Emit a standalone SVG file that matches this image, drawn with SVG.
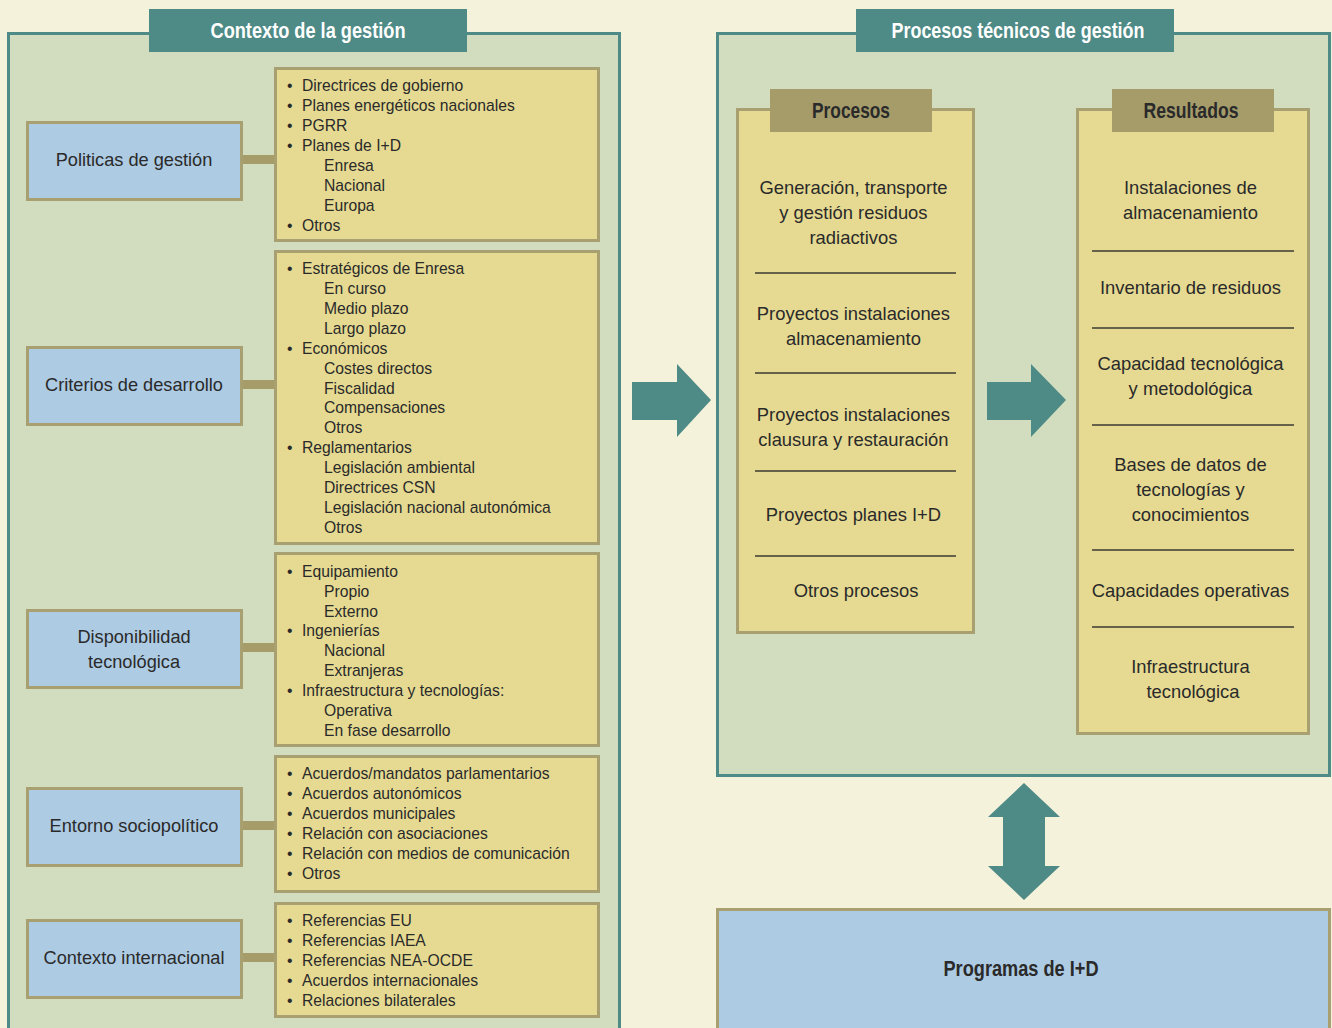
<svg xmlns="http://www.w3.org/2000/svg" width="1332" height="1028" viewBox="0 0 1332 1028">
<style>
.panel{fill:#D1DDBE;stroke:#4E8A86;stroke-width:3}
.hdr{fill:#4E8A86}
.hdrt{font-family:'Liberation Sans',Arial,sans-serif;font-weight:bold;font-size:22.5px;fill:#ffffff;text-anchor:middle}
.node{fill:#ADCBE3;stroke:#A8A070;stroke-width:3}
.list{fill:#E6DA92;stroke:#A8A070;stroke-width:3}
.bar{fill:#A59C6A}
.nt{font-family:'Liberation Sans',Arial,sans-serif;font-size:18.2px;fill:#2A2A2A;text-anchor:middle}
.lt{font-family:'Liberation Sans',Arial,sans-serif;font-size:15.7px;fill:#2A2A2A}
.pt{font-family:'Liberation Sans',Arial,sans-serif;font-size:18.4px;fill:#2A2A2A;text-anchor:middle}
.sub{fill:#A59C6A}
.subt{font-family:'Liberation Sans',Arial,sans-serif;font-weight:bold;font-size:21.5px;fill:#2A2A2A;text-anchor:middle}
.sep{stroke:#3A3A30;stroke-width:1.5}
.arr{fill:#4E8A86}
</style>
<rect width="1332" height="1028" fill="#F5F2DC"/>

<g id="panel-contexto">
<rect class="panel" x="8.5" y="33.5" width="611" height="1010"/>
<rect class="hdr" x="149" y="9" width="318" height="43"/>
<text class="hdrt" x="308" y="38" textLength="195" lengthAdjust="spacingAndGlyphs">Contexto de la gestión</text>
</g>

<g id="panel-procesos">
<rect class="panel" x="717.5" y="33.5" width="612" height="742"/>
<rect class="hdr" x="856" y="9" width="318" height="43"/>
<text class="hdrt" x="1018" y="38" textLength="253" lengthAdjust="spacingAndGlyphs">Procesos técnicos de gestión</text>
</g>

<g id="connectors">
<rect class="bar" x="242" y="155" width="33" height="9"/>
<rect class="bar" x="242" y="380" width="33" height="9"/>
<rect class="bar" x="242" y="643" width="33" height="9"/>
<rect class="bar" x="242" y="821" width="33" height="9"/>
<rect class="bar" x="242" y="953" width="33" height="9"/>
<polygon class="arr" points="632,382 677,382 677,364 711,400 677,437 677,420 632,420"/>
<polygon class="arr" points="987,382 1031,382 1031,364 1066,400 1031,437 1031,420 987,420"/>
<polygon class="arr" points="1024,783 1060,817 1045,817 1045,866 1060,866 1024,900 988,866 1003,866 1003,817 988,817"/>
</g>

<g id="node-politicas">
<rect class="node" x="27.5" y="122.5" width="214" height="77"/>
<text class="nt" x="134" y="166">Politicas de gestión</text>
</g>
<g id="node-criterios">
<rect class="node" x="27.5" y="347.5" width="214" height="77"/>
<text class="nt" x="134" y="391">Criterios de desarrollo</text>
</g>
<g id="node-disponibilidad">
<rect class="node" x="27.5" y="610.5" width="214" height="77"/>
<text class="nt" x="134" y="643">Disponibilidad</text>
<text class="nt" x="134" y="668">tecnológica</text>
</g>
<g id="node-entorno">
<rect class="node" x="27.5" y="788.5" width="214" height="77"/>
<text class="nt" x="134" y="832">Entorno sociopolítico</text>
</g>
<g id="node-internacional">
<rect class="node" x="27.5" y="920.5" width="214" height="77"/>
<text class="nt" x="134" y="964">Contexto internacional</text>
</g>

<g id="list-politicas">
<rect class="list" x="275.5" y="68.5" width="323" height="172"/>
<text class="lt"><tspan x="287" y="91">•</tspan><tspan x="302" y="91">Directrices de gobierno</tspan>
<tspan x="287" y="111">•</tspan><tspan x="302" y="111">Planes energéticos nacionales</tspan>
<tspan x="287" y="131">•</tspan><tspan x="302" y="131">PGRR</tspan>
<tspan x="287" y="151">•</tspan><tspan x="302" y="151">Planes de I+D</tspan>
<tspan x="324" y="171">Enresa</tspan>
<tspan x="324" y="191">Nacional</tspan>
<tspan x="324" y="211">Europa</tspan>
<tspan x="287" y="231">•</tspan><tspan x="302" y="231">Otros</tspan></text>
</g>
<g id="list-criterios">
<rect class="list" x="275.5" y="251.5" width="323" height="292"/>
<text class="lt"><tspan x="287" y="274">•</tspan><tspan x="302" y="274">Estratégicos de Enresa</tspan>
<tspan x="324" y="294">En curso</tspan>
<tspan x="324" y="314">Medio plazo</tspan>
<tspan x="324" y="334">Largo plazo</tspan>
<tspan x="287" y="354">•</tspan><tspan x="302" y="354">Económicos</tspan>
<tspan x="324" y="374">Costes directos</tspan>
<tspan x="324" y="394">Fiscalidad</tspan>
<tspan x="324" y="413">Compensaciones</tspan>
<tspan x="324" y="433">Otros</tspan>
<tspan x="287" y="453">•</tspan><tspan x="302" y="453">Reglamentarios</tspan>
<tspan x="324" y="473">Legislación ambiental</tspan>
<tspan x="324" y="493">Directrices CSN</tspan>
<tspan x="324" y="513">Legislación nacional autonómica</tspan>
<tspan x="324" y="533">Otros</tspan></text>
</g>
<g id="list-disponibilidad">
<rect class="list" x="275.5" y="553.5" width="323" height="192"/>
<text class="lt"><tspan x="287" y="577">•</tspan><tspan x="302" y="577">Equipamiento</tspan>
<tspan x="324" y="597">Propio</tspan>
<tspan x="324" y="617">Externo</tspan>
<tspan x="287" y="636">•</tspan><tspan x="302" y="636">Ingenierías</tspan>
<tspan x="324" y="656">Nacional</tspan>
<tspan x="324" y="676">Extranjeras</tspan>
<tspan x="287" y="696">•</tspan><tspan x="302" y="696">Infraestructura y tecnologías:</tspan>
<tspan x="324" y="716">Operativa</tspan>
<tspan x="324" y="736">En fase desarrollo</tspan></text>
</g>
<g id="list-entorno">
<rect class="list" x="275.5" y="756.5" width="323" height="135"/>
<text class="lt"><tspan x="287" y="779">•</tspan><tspan x="302" y="779">Acuerdos/mandatos parlamentarios</tspan>
<tspan x="287" y="799">•</tspan><tspan x="302" y="799">Acuerdos autonómicos</tspan>
<tspan x="287" y="819">•</tspan><tspan x="302" y="819">Acuerdos municipales</tspan>
<tspan x="287" y="839">•</tspan><tspan x="302" y="839">Relación con asociaciones</tspan>
<tspan x="287" y="859">•</tspan><tspan x="302" y="859">Relación con medios de comunicación</tspan>
<tspan x="287" y="879">•</tspan><tspan x="302" y="879">Otros</tspan></text>
</g>
<g id="list-internacional">
<rect class="list" x="275.5" y="903.5" width="323" height="113"/>
<text class="lt"><tspan x="287" y="926">•</tspan><tspan x="302" y="926">Referencias EU</tspan>
<tspan x="287" y="946">•</tspan><tspan x="302" y="946">Referencias IAEA</tspan>
<tspan x="287" y="966">•</tspan><tspan x="302" y="966">Referencias NEA-OCDE</tspan>
<tspan x="287" y="986">•</tspan><tspan x="302" y="986">Acuerdos internacionales</tspan>
<tspan x="287" y="1006">•</tspan><tspan x="302" y="1006">Relaciones bilaterales</tspan></text>
</g>

<g id="box-procesos">
<rect class="list" x="737.5" y="109.5" width="236" height="523"/>
<rect class="sub" x="770" y="89" width="162" height="43"/>
<text class="subt" x="851" y="118" textLength="78" lengthAdjust="spacingAndGlyphs">Procesos</text>
<text class="pt"><tspan x="856" y="193.5">Generación, transporte</tspan>
<tspan x="856" y="218.5">y gestión residuos</tspan>
<tspan x="856" y="243.5">radiactivos</tspan>
<tspan x="856" y="319.5">Proyectos instalaciones</tspan>
<tspan x="856" y="344.5">almacenamiento</tspan>
<tspan x="856" y="420.5">Proyectos instalaciones</tspan>
<tspan x="856" y="445.5">clausura y restauración</tspan>
<tspan x="856" y="520.5">Proyectos planes I+D</tspan>
<tspan x="856" y="596.5">Otros procesos</tspan></text>
<line class="sep" x1="755" y1="273" x2="956" y2="273"/>
<line class="sep" x1="755" y1="373" x2="956" y2="373"/>
<line class="sep" x1="755" y1="471" x2="956" y2="471"/>
<line class="sep" x1="755" y1="556" x2="956" y2="556"/>
</g>

<g id="box-resultados">
<rect class="list" x="1077.5" y="109.5" width="231" height="624"/>
<rect class="sub" x="1112" y="89" width="162" height="43"/>
<text class="subt" x="1191" y="118" textLength="95" lengthAdjust="spacingAndGlyphs">Resultados</text>
<text class="pt"><tspan x="1193" y="193.5">Instalaciones de</tspan>
<tspan x="1193" y="218.5">almacenamiento</tspan>
<tspan x="1193" y="293.5">Inventario de residuos</tspan>
<tspan x="1193" y="369.5">Capacidad tecnológica</tspan>
<tspan x="1193" y="394.5">y metodológica</tspan>
<tspan x="1193" y="470.5">Bases de datos de</tspan>
<tspan x="1193" y="495.5">tecnologías y</tspan>
<tspan x="1193" y="520.5">conocimientos</tspan>
<tspan x="1193" y="596.5">Capacidades operativas</tspan>
<tspan x="1193" y="672.5">Infraestructura</tspan>
<tspan x="1193" y="697.5">tecnológica</tspan></text>
<line class="sep" x1="1092" y1="251" x2="1294" y2="251"/>
<line class="sep" x1="1092" y1="328" x2="1294" y2="328"/>
<line class="sep" x1="1092" y1="425" x2="1294" y2="425"/>
<line class="sep" x1="1092" y1="550" x2="1294" y2="550"/>
<line class="sep" x1="1092" y1="627" x2="1294" y2="627"/>
</g>

<g id="node-programas">
<rect class="node" x="717.5" y="909.5" width="612" height="130"/>
<text class="subt" x="1021" y="976" textLength="155" lengthAdjust="spacingAndGlyphs">Programas de I+D</text>
</g>
</svg>
